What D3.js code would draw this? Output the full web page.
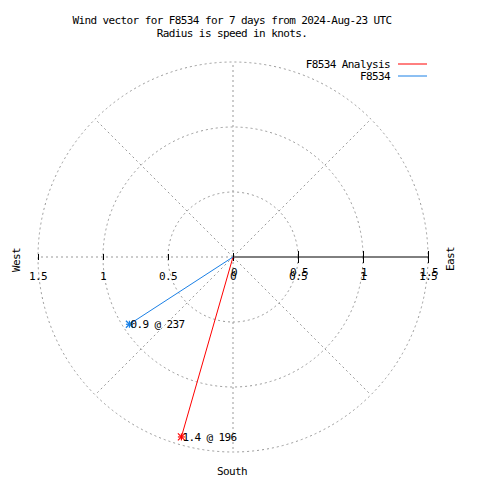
<!DOCTYPE html>
<html>
<head>
<meta charset="utf-8">
<script src="https://cdn.jsdelivr.net/npm/d3@7"></script>
<style>
  html, body { margin: 0; padding: 0; background: #fff; }
  svg { display: block; }
  text { font-family: "DejaVu Sans Mono", "Liberation Mono", monospace; font-size: 11px; letter-spacing: -0.6px; fill: #000; }
</style>
</head>
<body>
<svg id="chart" width="480" height="480"></svg>
<script>
// ---- data ----
const titleLines = ["Wind vector for F8534 for 7 days from 2024-Aug-23 UTC", "Radius is speed in knots."];
const seriesNames = ["F8534 Analysis", "F8534"];
const seriesColors = ["#ff0000", "#1a80e6"];
const speeds = [1.44, 0.95];          // knots
const directions = [196, 237];        // degrees, clockwise from north
const pointLabels = ["1.4 @ 196", "0.9 @ 237"];
const rTicks = [0, 0.5, 1, 1.5];
const rTickLabels = ["0", "0.5", "1", "1.5"];
const gridAngles = [0, 45, 90, 135, 180, 225, 270, 315];
const compassLabels = ["West", "East", "South"];

// ---- layout ----
const svg = d3.select("#chart");
const cx = 233, cy = 257, R = 195;
const r = d3.scaleLinear().domain([0, 1.5]).range([0, R]);
const xAxisScale = d3.scaleLinear().domain([-1.5, 1.5]).range([cx - R, cx + R]);
const gridColor = "#999999";
const dash = "2,3";

function polar(v, deg) {
  const a = deg * Math.PI / 180;
  return [cx + r(v) * Math.sin(a), cy - r(v) * Math.cos(a)];
}

// title
svg.selectAll("text.title").data(titleLines).enter().append("text")
  .attr("class", "title")
  .attr("x", 232).attr("y", (d, i) => 24 + i * 13)
  .attr("text-anchor", "middle").text(d => d);

// grid circles
const grid = svg.append("g");
grid.selectAll("circle").data(rTicks.filter(t => t > 0)).enter().append("circle")
  .attr("cx", cx).attr("cy", cy).attr("r", d => r(d))
  .attr("fill", "none").attr("stroke", gridColor).attr("stroke-dasharray", dash);

// radial grid lines
grid.selectAll("line").data(gridAngles.filter(a => a !== 90)).enter().append("line")
  .attr("x1", cx).attr("y1", cy)
  .attr("x2", d => polar(1.5, d)[0]).attr("y2", d => polar(1.5, d)[1])
  .attr("stroke", gridColor).attr("stroke-dasharray", dash);

// axis through centre
const axis = d3.axisBottom(xAxisScale)
  .tickValues([-1.5, -1, -0.5, 0, 0.5, 1, 1.5])
  .tickFormat("");
const gAxis = svg.append("g").attr("transform", `translate(0,${cy})`).call(axis);
gAxis.select(".domain").remove();
gAxis.selectAll(".tick line")
  .attr("stroke", "#000")
  .attr("y1", d => d > 0 ? -6 : (d === 0 ? -4 : -3))
  .attr("y2", d => d > 0 ? 6 : (d === 0 ? 4 : 3));
// solid r-axis to the east
svg.append("line")
  .attr("x1", xAxisScale(0)).attr("y1", cy)
  .attr("x2", xAxisScale(1.5)).attr("y2", cy)
  .attr("stroke", "#000");

// tick labels (west side, single)
const labG = svg.append("g");
rTicks.forEach((t, i) => {
  labG.append("text").attr("x", xAxisScale(-t)).attr("y", 280)
    .attr("text-anchor", "middle").text(rTickLabels[i]);
});
// east side labels (overprinted twice, as in the reference)
rTicks.forEach((t, i) => {
  labG.append("text").attr("x", xAxisScale(t) + 1).attr("y", 276)
    .attr("text-anchor", "middle").text(rTickLabels[i]);
  if (t > 0) labG.append("text").attr("x", xAxisScale(t)).attr("y", 280)
    .attr("text-anchor", "middle").text(rTickLabels[i]);
});

// compass labels
svg.append("text").attr("transform", "translate(19.5,260) rotate(-90)")
  .attr("text-anchor", "middle").text(compassLabels[0]);
svg.append("text").attr("transform", "translate(454,259) rotate(-90)")
  .attr("text-anchor", "middle").text(compassLabels[1]);
svg.append("text").attr("x", 232).attr("y", 475)
  .attr("text-anchor", "middle").text(compassLabels[2]);

// legend
seriesNames.forEach((n, i) => {
  const y = 64 + i * 12;
  svg.append("text").attr("x", 390).attr("y", y + 3.5).attr("text-anchor", "end").text(n);
  svg.append("line").attr("x1", 398).attr("x2", 427).attr("y1", y).attr("y2", y)
    .attr("stroke", seriesColors[i]).attr("stroke-width", 1);
});

// data vectors
const dataG = svg.append("g");
speeds.forEach((s, i) => {
  const [px, py] = polar(s, directions[i]);
  const col = seriesColors[i];
  dataG.append("line").attr("x1", cx).attr("y1", cy).attr("x2", px).attr("y2", py)
    .attr("stroke", col).attr("stroke-width", 1);
  const k = 3.5;
  const star = [[-k, 0, k, 0], [0, -k, 0, k], [-k, -k, k, k], [-k, k, k, -k]];
  star.forEach(s4 => dataG.append("line")
    .attr("x1", px + s4[0]).attr("y1", py + s4[1])
    .attr("x2", px + s4[2]).attr("y2", py + s4[3])
    .attr("stroke", col).attr("stroke-width", 1.2));
  dataG.append("text").attr("x", px + 1).attr("y", py + 4).text(pointLabels[i]);
});
</script>
</body>
</html>
